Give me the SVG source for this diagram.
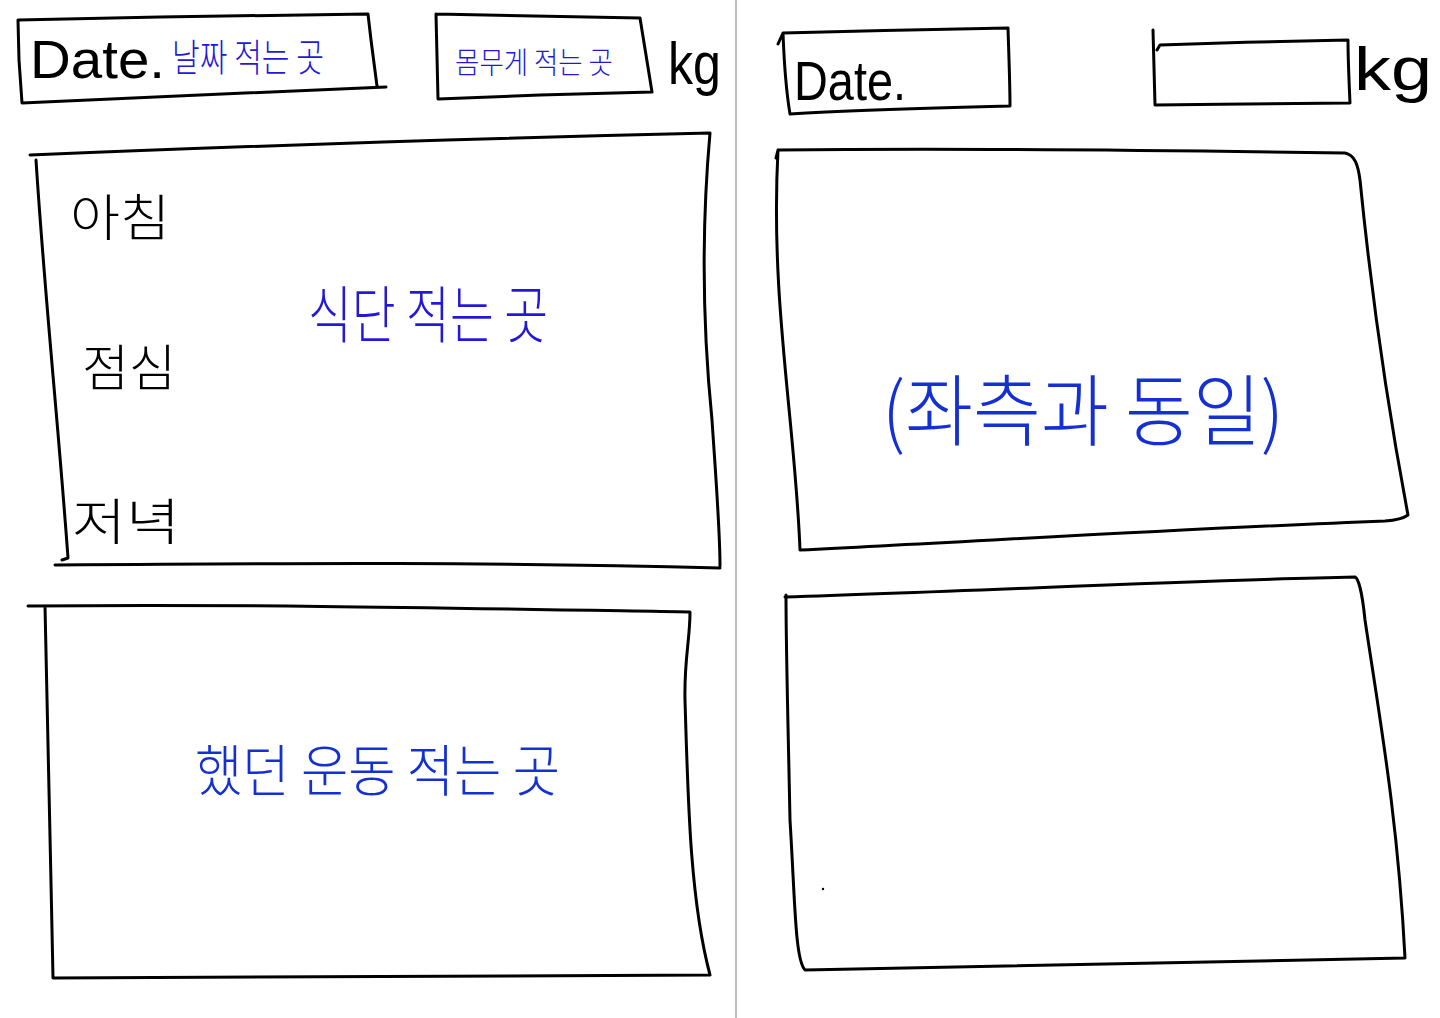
<svg xmlns="http://www.w3.org/2000/svg" width="1440" height="1018" viewBox="0 0 1440 1018">
<style>
.ln{fill:none;stroke:#000;stroke-width:3;stroke-linecap:round;stroke-linejoin:round}
.bk{font-family:"Liberation Sans","Noto Sans CJK KR",sans-serif;fill:#000}
.kr{font-family:"Noto Sans CJK KR",sans-serif;font-weight:300}
.bl{fill:#2418d8}
.bl2{fill:#1530d2}
</style>
<rect width="1440" height="1018" fill="#fff"/>
<line x1="736" y1="0" x2="736" y2="1018" stroke="#aaa" stroke-width="1.5"/>
<g id="connectors"></g>
<g id="date-left">
<path class="ln" d="M18,20 L160,17 L368,14 L371,40 L377,86 M18,20 L19,60 L22,103 L200,95 L386,87"/>
<text class="bk" x="30" y="78" font-size="54" textLength="135" lengthAdjust="spacingAndGlyphs">Date.</text>
<text class="kr bl" x="172" y="71" font-size="38" textLength="152" lengthAdjust="spacingAndGlyphs">날짜 적는 곳</text>
</g>
<g id="weight-left">
<path class="ln" d="M436,14 L640,18 L646,55 L652,92 L540,95 L438,99 L436,14"/>
<text class="kr bl" x="455" y="73" font-size="30" textLength="158" lengthAdjust="spacingAndGlyphs">몸무게 적는 곳</text>
<text class="bk" x="668" y="84" font-size="60" textLength="53" lengthAdjust="spacingAndGlyphs">kg</text>
</g>
<g id="meal">
<path class="ln" d="M30,155 C200,148 400,140 710,133 C704,200 700,300 712,420 C716,480 720,530 720,566 M36,160 C45,300 58,420 68,558 L62,560 M55,565 C300,563 500,562 720,568"/>
<text class="kr" x="70" y="236" font-size="50" textLength="100" lengthAdjust="spacingAndGlyphs">아침</text>
<text class="kr" x="82" y="386" font-size="50" textLength="94" lengthAdjust="spacingAndGlyphs">점심</text>
<text class="kr" x="72" y="540" font-size="50" textLength="108" lengthAdjust="spacingAndGlyphs">저녁</text>
<text class="kr bl" x="308" y="338" font-size="62" textLength="240" lengthAdjust="spacingAndGlyphs">식단 적는 곳</text>
</g>
<g id="exercise">
<path class="ln" d="M28,606 C250,604 450,608 690,612 C690,640 684,660 685,700 C688,800 690,900 710,975 M45,606 C48,700 50,850 53,978 C250,976 450,975 710,975"/>
<text class="kr bl2" x="195" y="791" font-size="56" textLength="365" lengthAdjust="spacingAndGlyphs">했던 운동 적는 곳</text>
</g>
<g id="date-right">
<path class="ln" d="M778,44 L783,33 C850,31 950,29 1008,28 C1009,60 1010,85 1010,106 C930,108 850,110 790,114 C786,90 784,60 783,33"/>
<text class="bk" x="794" y="100" font-size="56" textLength="112" lengthAdjust="spacingAndGlyphs">Date.</text>
</g>
<g id="weight-right">
<path class="ln" d="M1153,30 L1155,105 C1220,104 1290,104 1350,103 C1349,80 1348,60 1348,40 C1290,41 1220,43 1160,45 L1157,50"/>
<text class="bk" x="1354" y="90" font-size="62" textLength="78" lengthAdjust="spacingAndGlyphs">kg</text>
</g>
<g id="panel-right-top">
<path class="ln" d="M776,158 L778,150 C950,148 1150,150 1345,153 C1355,155 1358,165 1360,180 C1372,300 1390,420 1408,515 C1404,518 1398,520 1385,521 C1200,528 1000,540 800,550 C795,420 770,300 778,150"/>
<text class="kr bl2" x="882" y="440" font-size="78" textLength="402" lengthAdjust="spacingAndGlyphs">(좌측과 동일)</text>
</g>
<g id="panel-right-bottom">
<path class="ln" d="M785,597 C1000,590 1200,580 1355,577 C1358,578 1362,590 1365,620 C1380,720 1398,820 1405,958 C1200,962 1000,966 805,970 C795,960 795,900 790,820 C788,720 786,650 786,595"/>
<circle cx="823" cy="889" r="1.2" fill="#000"/>
</g>
</svg>
